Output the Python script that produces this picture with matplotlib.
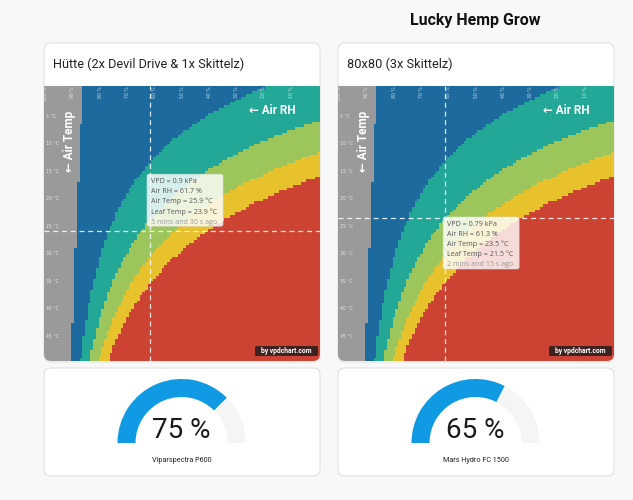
import numpy as np
import matplotlib
matplotlib.use("Agg")
import matplotlib.pyplot as plt
from matplotlib.colors import ListedColormap, BoundaryNorm
from matplotlib.patches import FancyBboxPatch, Wedge

plt.rcParams['font.family'] = ['Roboto', 'DejaVu Sans']

# ---------------- data ----------------
page_title = "Lucky Hemp Grow"
panel_titles = ["Hütte (2x Devil Drive & 1x Skittelz)", "80x80 (3x Skittelz)"]
leaf_offset = -2.0                      # leaf temp = air temp - 2 °C
zone_bounds = [-10, 0.0, 0.4, 0.8, 1.2, 1.6, 10]   # kPa
zone_colors = ["#9a9a9a", "#1d6a9f", "#23a898", "#9cc65b", "#e8c22c", "#cd4333"]
rh_values = np.arange(100, -1, -1)      # % (grid columns)
temp_values = np.arange(-0.25, 49.5, 0.5)  # °C (grid rows)
rh_ticks = [100, 90, 80, 70, 60, 50, 40, 30, 20, 10]
temp_ticks = [5, 10, 15, 20, 25, 30, 35, 40, 45]
reading_vpd = [0.9, 0.79]
reading_rh = [61.7, 61.3]
reading_air = [25.9, 23.5]
reading_leaf = [23.9, 21.5]
reading_age = ["5 mins and 30 s ago", "2 mins and 15 s ago"]
gauge_values = [75, 65]
gauge_labels = ["Viparspectra P600", "Mars Hydro FC 1500"]

# ---------------- layout (pixels) ----------------
W, H = 633, 500
fig = plt.figure(figsize=(W / 100, H / 100), dpi=100)
fig.patch.set_facecolor("#f8f8f8")

bg = fig.add_axes([0, 0, 1, 1], zorder=0)
bg.set_xlim(0, W); bg.set_ylim(H, 0); bg.axis("off")
fg = fig.add_axes([0, 0, 1, 1], zorder=10)
fg.set_xlim(0, W); fg.set_ylim(H, 0); fg.axis("off")
fg.patch.set_alpha(0)

panel_left = [44, 338]
plot_top, plot_w, plot_h = 86, 276, 275
card_top, card_bottom = 43, 362
xlim = (100.5, -0.5)
ylim = (49.5, -0.5)
tip_offsets = [(-3, -57), (-2, -1)]   # tooltip box offsets from point (px)

fg.text(475, 20, page_title, ha="center", va="center", fontsize=11.5,
        fontweight="bold", color="#111111")


def svp(t):
    return 0.6108 * np.exp(17.27 * t / (t + 237.3))


TT, RR = np.meshgrid(temp_values, rh_values, indexing="ij")
vpd_grid = svp(TT + leaf_offset) - RR / 100.0 * svp(TT)
cmap = ListedColormap(zone_colors)
norm = BoundaryNorm(zone_bounds, cmap.N)


def to_px(i, rh, t):
    x = panel_left[i] + (xlim[0] - rh) / (xlim[0] - xlim[1]) * plot_w
    y = plot_top + (t - ylim[1]) / (ylim[0] - ylim[1]) * plot_h
    return x, y


for i in range(2):
    L = panel_left[i]
    card = FancyBboxPatch((L, card_top), plot_w, card_bottom - card_top,
                          boxstyle="round,pad=0,rounding_size=7",
                          facecolor="white", edgecolor="#e2e2e2", lw=0.8,
                          transform=bg.transData)
    bg.add_patch(card)
    bg.text(L + 9, 64, panel_titles[i], ha="left", va="center",
            fontsize=9.2, color="#222222")

    ax = fig.add_axes([L / W, 1 - (plot_top + plot_h) / H, plot_w / W, plot_h / H],
                      zorder=5)
    im = ax.pcolormesh(rh_values, temp_values, vpd_grid, cmap=cmap, norm=norm,
                       shading="nearest")
    clip = FancyBboxPatch((L, card_top), plot_w, card_bottom - card_top - 1,
                          boxstyle="round,pad=0,rounding_size=7",
                          transform=bg.transData, facecolor="none", edgecolor="none")
    im.set_clip_path(clip)
    ax.set_xlim(*xlim); ax.set_ylim(*ylim)
    ax.axis("off")

    for r in rh_ticks:
        ax.text(r, -0.4, f"{r} %", rotation=90, ha="center", va="top",
                fontsize=3.3, color="white", alpha=0.75,
                family=["DejaVu Sans"])
    for t in temp_ticks:
        ax.text(99.6, t, f"{t} °C", ha="left", va="center",
                fontsize=3.3, color="white", alpha=0.75,
                family=["DejaVu Sans"])

    ax.axvline(reading_rh[i], color="white", lw=0.9, ls=(0, (4, 3)), alpha=0.85)
    ax.axhline(reading_air[i], color="white", lw=0.9, ls=(0, (4, 3)), alpha=0.85)

    fg.text(L + 25, 141, "← Air Temp", rotation=90, ha="center", va="center",
            fontsize=8.5, fontweight="bold", color="white")
    fg.text(L + 228, 110, "← Air RH", ha="center", va="center",
            fontsize=8.5, fontweight="bold", color="white")

    px, py = to_px(i, reading_rh[i], reading_air[i])
    bx, by = px + tip_offsets[i][0], py + tip_offsets[i][1]
    fg.add_patch(FancyBboxPatch((bx, by), 76, 52,
                                boxstyle="round,pad=0,rounding_size=2",
                                facecolor="white", edgecolor="#dddddd",
                                lw=0.5, alpha=0.82))
    lines = [f"VPD = {reading_vpd[i]} kPa", f"Air RH = {reading_rh[i]} %",
             f"Air Temp = {reading_air[i]} °C", f"Leaf Temp = {reading_leaf[i]} °C",
             reading_age[i]]
    for k, s in enumerate(lines):
        fg.text(bx + 4, by + 7 + k * 10.2, s, ha="left", va="center",
                fontsize=5.15, color="#999999" if k == 4 else "#555555",
                family=["Open Sans", "DejaVu Sans"])

    fg.add_patch(FancyBboxPatch((L + 211, 346), 63, 10,
                                boxstyle="round,pad=0,rounding_size=1.5",
                                facecolor="#1a1a1a", edgecolor="none", alpha=0.8))
    fg.text(L + 242.5, 351.2, "by vpdchart.com", ha="center", va="center",
            fontsize=4.9, fontweight="bold", color="white")

    bg.add_patch(FancyBboxPatch((L, 368), plot_w, 108,
                                boxstyle="round,pad=0,rounding_size=7",
                                facecolor="white", edgecolor="#e2e2e2", lw=0.8))
    cx, cy, r_out, width = L + 137.5, 443, 64, 18
    bg.add_patch(Wedge((cx, cy), r_out, 180, 360, width=width,
                       facecolor="#f5f5f5", edgecolor="none"))
    bg.add_patch(Wedge((cx, cy), r_out, 180, 180 + gauge_values[i] / 100 * 180,
                       width=width, facecolor="#0f9ae3", edgecolor="none"))
    bg.text(cx, 431, f"{gauge_values[i]} %", ha="center", va="center",
            fontsize=20, color="#1a1a1a")
    bg.text(cx, 461, gauge_labels[i], ha="center", va="center",
            fontsize=5.2, color="#222222")

fig.savefig("out.png", dpi=100, facecolor=fig.get_facecolor())
